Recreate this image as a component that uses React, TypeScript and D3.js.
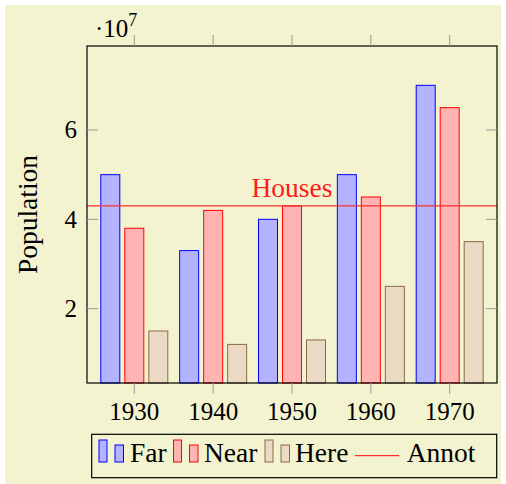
import * as d3 from "d3";

const years = [1930, 1940, 1950, 1960, 1970];
const seriesNames = ["Far", "Near", "Here"];
const far = [50e6, 33e6, 40e6, 50e6, 70e6];
const near = [38e6, 42e6, 43e6, 45e6, 65e6];
const here = [15e6, 12e6, 13e6, 25e6, 35e6];
const yTicks = [20e6, 40e6, 60e6];
const annotValue = 43e6;
const annotLabel = "Houses";
const annotYear = 1950;

const W = 506;
const H = 484;
const FONT = "Liberation Serif, serif";
const NUM = 25; // digits
const TXT = 27.5; // words

const colors: Record<string, { fill: string; stroke: string }> = {
  Far: { fill: "#b3b3ff", stroke: "#0000ff" },
  Near: { fill: "#ffb3b3", stroke: "#ff0000" },
  Here: { fill: "#ead9c4", stroke: "#8e6a42" },
};

export default function App() {
  const plot = { left: 87, right: 497, top: 46, bottom: 383 };

  const x = d3.scaleLinear().domain([1924, 1976]).range([plot.left, plot.right]);
  const y = d3.scaleLinear().domain([3.36e6, 78.8e6]).range([plot.bottom, plot.top]);
  const inner = d3
    .scaleBand<string>()
    .domain(seriesNames)
    .range([-36, 36])
    .paddingInner(5 / 24)
    .paddingOuter(2.5 / 24);

  const data: Record<string, number[]> = { Far: far, Near: near, Here: here };
  const tickLen = 11;

  // legend layout
  const legendItems = [
    { name: "Far", x: 99, tx: 130 },
    { name: "Near", x: 173.5, tx: 204 },
    { name: "Here", x: 265, tx: 295 },
  ];

  return (
    <svg width={W} height={H} style={{ position: "absolute", left: 0, top: 0, fontFamily: FONT }}>
      <rect x={5} y={5} width={496} height={479} fill="#f3f4cf" />

      {/* bars */}
      {seriesNames.map((s) =>
        years.map((yr, i) => (
          <rect
            key={s + yr}
            x={x(yr) + (inner(s) ?? 0)}
            y={y(data[s][i])}
            width={inner.bandwidth()}
            height={plot.bottom - y(data[s][i])}
            fill={colors[s].fill}
            stroke={colors[s].stroke}
            strokeWidth={1}
          />
        ))
      )}

      {/* annotation line */}
      <line
        x1={plot.left}
        x2={plot.right}
        y1={y(annotValue)}
        y2={y(annotValue)}
        stroke="#ff3030"
        strokeWidth={1.2}
      />
      <text x={x(annotYear)} y={y(annotValue) - 9} textAnchor="middle" fontSize={TXT} fill="#ff1a1a">
        {annotLabel}
      </text>

      {/* frame */}
      <rect
        x={plot.left}
        y={plot.top}
        width={plot.right - plot.left}
        height={plot.bottom - plot.top}
        fill="none"
        stroke="#000"
        strokeWidth={1.2}
      />

      {/* x ticks (outside, top and bottom) */}
      {years.map((yr) => (
        <g key={"xt" + yr}>
          <line x1={x(yr)} x2={x(yr)} y1={plot.bottom} y2={plot.bottom + tickLen} stroke="#999" />
          <line x1={x(yr)} x2={x(yr)} y1={plot.top} y2={plot.top - tickLen} stroke="#999" />
          <text x={x(yr)} y={420} textAnchor="middle" fontSize={NUM} fill="#000">
            {yr}
          </text>
        </g>
      ))}

      {/* y ticks (inside, left and right) */}
      {yTicks.map((t) => (
        <g key={"yt" + t}>
          <line x1={plot.left} x2={plot.left + tickLen} y1={y(t)} y2={y(t)} stroke="#999" />
          <line x1={plot.right} x2={plot.right - tickLen} y1={y(t)} y2={y(t)} stroke="#999" />
          <text x={77} y={y(t) + 8.5} textAnchor="end" fontSize={NUM} fill="#000">
            {t / 1e7}
          </text>
        </g>
      ))}

      {/* scale label */}
      <text x={95} y={37} fontSize={NUM} fill="#000">
        ·10
        <tspan fontSize={18} dy={-11}>
          7
        </tspan>
      </text>

      {/* y label */}
      <text
        transform={`translate(37,${(plot.top + plot.bottom) / 2}) rotate(-90)`}
        textAnchor="middle"
        fontSize={TXT}
        fill="#000"
      >
        Population
      </text>

      {/* legend */}
      <rect x={91.7} y={434.3} width={405} height={43.4} fill="none" stroke="#000" strokeWidth={1.2} />
      {legendItems.map((it) => (
        <g key={"lg" + it.name}>
          <rect
            x={it.x}
            y={440}
            width={8}
            height={22}
            fill={colors[it.name].fill}
            stroke={colors[it.name].stroke}
          />
          <rect
            x={it.x + 16}
            y={445}
            width={8.5}
            height={17}
            fill={colors[it.name].fill}
            stroke={colors[it.name].stroke}
          />
          <text x={it.tx} y={462} fontSize={TXT} fill="#000">
            {it.name}
          </text>
        </g>
      ))}
      <line x1={355} x2={399.3} y1={455.7} y2={455.7} stroke="#ff0000" strokeWidth={1} />
      <text x={406.7} y={462} fontSize={TXT} fill="#000">
        Annot
      </text>
    </svg>
  );
}
